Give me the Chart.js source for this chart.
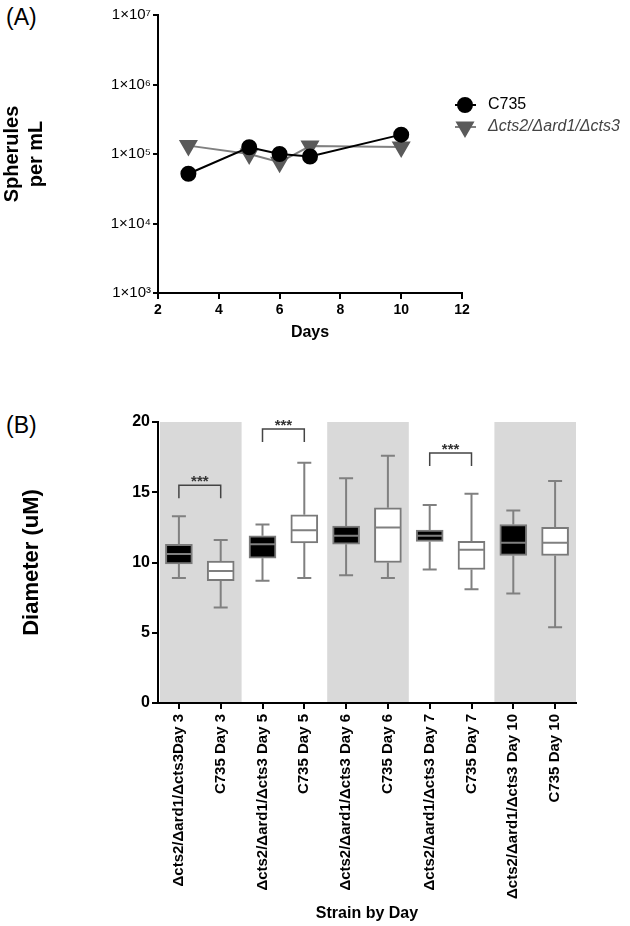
<!DOCTYPE html>
<html>
<head>
<meta charset="utf-8">
<script src="https://cdn.jsdelivr.net/npm/chart.js@4.4.1/dist/chart.umd.min.js"></script>
<style>
body { margin: 0; background: #fff; }
#wrap { position: relative; width: 630px; height: 926px; font-family: 'Liberation Sans', Arial, sans-serif; }
canvas { position: absolute; left: 0; }
.tag { position: absolute; left: 6px; font-size: 23px; line-height: 26px; }
</style>
</head>
<body>
<div id="wrap">
  <div class="tag" style="top:4px">(A)</div>
  <div class="tag" style="top:412px">(B)</div>
  <canvas id="chartA" width="630" height="345" style="top:0"></canvas>
  <canvas id="chartB" width="630" height="546" style="top:380px"></canvas>
</div>
<script>
// panel A - spherule counts
var days = [3, 5, 6, 7, 10];
var c735Counts = [5.2e4, 1.25e5, 1.0e5, 9.2e4, 1.9e5];
var mutantCounts = [1.32e5, 1.0e5, 7.6e4, 1.3e5, 1.26e5];
var logTicks = [1e3, 1e4, 1e5, 1e6, 1e7];
var dayTicks = [2, 4, 6, 8, 10, 12];

// panel B - diameters
var strainLabels = [
  'Δcts2/Δard1/Δcts3Day 3', 'C735 Day 3',
  'Δcts2/Δard1/Δcts3 Day 5', 'C735 Day 5',
  'Δcts2/Δard1/Δcts3 Day 6', 'C735 Day 6',
  'Δcts2/Δard1/Δcts3 Day 7', 'C735 Day 7',
  'Δcts2/Δard1/Δcts3 Day 10', 'C735 Day 10'
];
var boxMin    = [8.9, 6.8, 8.7, 8.9, 9.1, 8.9, 9.5, 8.1, 7.8, 5.4];
var boxQ1     = [9.9, 8.7, 10.3, 11.4, 11.3, 10.0, 11.5, 9.5, 10.5, 10.5];
var boxMedian = [10.6, 9.4, 11.3, 12.3, 11.9, 12.5, 11.9, 10.9, 11.4, 11.4];
var boxQ3     = [11.3, 10.1, 11.9, 13.4, 12.6, 13.9, 12.3, 11.5, 12.7, 12.5];
var boxMax    = [13.3, 11.6, 12.7, 17.1, 16.0, 17.6, 14.1, 14.9, 13.7, 15.8];
var bandStarts = [0, 4, 8];
var sigLeft = [0, 2, 6];
var sigLevel = [15.5, 19.5, 17.8];

Chart.defaults.font.family = "'Liberation Sans', Arial, sans-serif";
Chart.defaults.color = '#000';

var sup = { 3: '³', 4: '⁴', 5: '⁵', 6: '⁶', 7: '⁷' };

var legendA = {
  id: 'legendA',
  afterDraw: function(chart) {
    var ctx = chart.ctx;
    var rows = [[105, 0, 'normal 16px', '#000'], [127, 1, 'italic 16px', '#444']];
    rows.forEach(function(r) {
      var ds = chart.data.datasets[r[1]];
      ctx.save();
      ctx.strokeStyle = ds.borderColor;
      ctx.lineWidth = 2;
      ctx.beginPath();
      ctx.moveTo(455, r[0]);
      ctx.lineTo(476, r[0]);
      ctx.stroke();
      ctx.fillStyle = ds.pointBackgroundColor;
      ctx.strokeStyle = ds.pointBackgroundColor;
      Chart.helpers.drawPoint(ctx, {
        pointStyle: ds.pointStyle, rotation: ds.pointRotation,
        radius: ds.pointRadius, borderWidth: 1
      }, 465, r[0]);
      ctx.font = r[2] + " 'Liberation Sans', Arial, sans-serif";
      ctx.fillStyle = r[3];
      ctx.textBaseline = 'middle';
      ctx.fillText(ds.label, 488, r[0]);
      ctx.restore();
    });
  }
};

new Chart(document.getElementById('chartA'), {
  type: 'line',
  data: {
    datasets: [{
      label: 'C735',
      data: days.map(function(d, i) { return { x: d, y: c735Counts[i] }; }),
      borderColor: '#000',
      borderWidth: 2,
      pointStyle: 'circle',
      pointRadius: 7,
      pointRotation: 0,
      pointBackgroundColor: '#000',
      pointBorderColor: '#000'
    }, {
      label: 'Δcts2/Δard1/Δcts3',
      data: days.map(function(d, i) { return { x: d, y: mutantCounts[i] }; }),
      borderColor: '#808080',
      borderWidth: 2,
      pointStyle: 'triangle',
      pointRadius: 9,
      pointRotation: 180,
      pointBackgroundColor: '#5a5a5a',
      pointBorderColor: '#5a5a5a'
    }]
  },
  options: {
    responsive: false,
    animation: false,
    devicePixelRatio: 1,
    layout: { padding: { top: 15, right: 168, left: 0, bottom: 0 } },
    plugins: { legend: { display: false }, tooltip: { enabled: false } },
    scales: {
      x: {
        type: 'linear', min: 2, max: 12,
        afterBuildTicks: function(s) { s.ticks = dayTicks.map(function(v) { return { value: v }; }); },
        afterFit: function(s) { s.height = 52; },
        ticks: { font: { size: 14, weight: 'bold' }, padding: 3 },
        grid: { drawOnChartArea: false, color: '#000', lineWidth: 2, tickLength: 6 },
        border: { color: '#000', width: 2 },
        title: { display: true, text: 'Days', font: { size: 16, weight: 'bold' }, padding: { top: 0, bottom: 3 } }
      },
      y: {
        type: 'logarithmic', min: 1e3, max: 1e7,
        afterBuildTicks: function(s) { s.ticks = logTicks.map(function(v) { return { value: v }; }); },
        afterFit: function(s) { s.width = 158; },
        ticks: {
          font: { size: 15 }, padding: 2,
          callback: function(v) { return '1×10' + sup[Math.round(Math.log10(v))]; }
        },
        grid: { drawOnChartArea: false, color: '#000', lineWidth: 2, tickLength: 5 },
        border: { color: '#000', width: 2 },
        title: {
          display: true, text: ['Spherules', 'per mL'],
          font: { size: 20, weight: 'bold', lineHeight: 1.2 }, padding: { top: 0, bottom: 0 }
        }
      }
    }
  },
  plugins: [legendA]
});

var boxParts = {
  id: 'boxParts',
  beforeDatasetsDraw: function(chart) {
    var ctx = chart.ctx, x = chart.scales.x, y = chart.scales.y;
    var step = x.getPixelForValue(1) - x.getPixelForValue(0);
    ctx.save();
    ctx.fillStyle = '#d9d9d9';
    bandStarts.forEach(function(i) {
      var l = x.getPixelForValue(i) - step / 2 + 2;
      var r = x.getPixelForValue(i + 1) + step / 2;
      var t = y.getPixelForValue(20), b = y.getPixelForValue(0) - 1;
      ctx.fillRect(l, t, r - l, b - t);
    });
    ctx.restore();
  },
  afterDatasetsDraw: function(chart) {
    var ctx = chart.ctx, y = chart.scales.y;
    var bars = chart.getDatasetMeta(0).data;
    ctx.save();
    ctx.strokeStyle = '#808080';
    ctx.lineWidth = 2;
    bars.forEach(function(bar, i) {
      var cx = bar.x, hw = bar.width / 2;
      ctx.beginPath();
      ctx.moveTo(cx, y.getPixelForValue(boxMax[i]));
      ctx.lineTo(cx, y.getPixelForValue(boxQ3[i]));
      ctx.moveTo(cx, y.getPixelForValue(boxQ1[i]));
      ctx.lineTo(cx, y.getPixelForValue(boxMin[i]));
      ctx.moveTo(cx - 7, y.getPixelForValue(boxMax[i]));
      ctx.lineTo(cx + 7, y.getPixelForValue(boxMax[i]));
      ctx.moveTo(cx - 7, y.getPixelForValue(boxMin[i]));
      ctx.lineTo(cx + 7, y.getPixelForValue(boxMin[i]));
      ctx.moveTo(cx - hw + 1, y.getPixelForValue(boxMedian[i]));
      ctx.lineTo(cx + hw - 1, y.getPixelForValue(boxMedian[i]));
      ctx.stroke();
    });
    // significance brackets
    ctx.strokeStyle = '#444';
    ctx.lineWidth = 1.5;
    ctx.fillStyle = '#333';
    ctx.font = "bold 15px 'Liberation Sans', Arial, sans-serif";
    ctx.textAlign = 'center';
    ctx.textBaseline = 'bottom';
    sigLeft.forEach(function(i, k) {
      var x1 = bars[i].x, x2 = bars[i + 1].x;
      var top = y.getPixelForValue(sigLevel[k]);
      ctx.beginPath();
      ctx.moveTo(x1, top + 13);
      ctx.lineTo(x1, top);
      ctx.lineTo(x2, top);
      ctx.lineTo(x2, top + 13);
      ctx.stroke();
      ctx.fillText('***', (x1 + x2) / 2, top + 4);
    });
    ctx.restore();
  }
};

new Chart(document.getElementById('chartB'), {
  type: 'bar',
  data: {
    labels: strainLabels,
    datasets: [{
      data: boxQ1.map(function(q, i) { return [q, boxQ3[i]]; }),
      backgroundColor: strainLabels.map(function(l, i) { return i % 2 === 0 ? '#000' : '#fff'; }),
      borderColor: '#7a7a7a',
      borderWidth: 2,
      borderSkipped: false,
      barThickness: 27
    }]
  },
  options: {
    responsive: false,
    animation: false,
    devicePixelRatio: 1,
    layout: { padding: { top: 42, right: 54, left: 0, bottom: 0 } },
    plugins: { legend: { display: false }, tooltip: { enabled: false } },
    scales: {
      x: {
        type: 'category',
        afterFit: function(s) { s.height = 223; },
        ticks: { minRotation: 90, maxRotation: 90, autoSkip: false, font: { size: 15, weight: 'bold' }, padding: 5 },
        grid: { offset: false, drawOnChartArea: false, color: '#000', lineWidth: 2, tickLength: 6 },
        border: { color: '#000', width: 2 },
        title: { display: true, text: 'Strain by Day', font: { size: 16, weight: 'bold' }, padding: { top: 0, bottom: 3 } }
      },
      y: {
        min: 0, max: 20,
        afterFit: function(s) { s.width = 158; },
        ticks: { stepSize: 5, font: { size: 16, weight: 'bold' }, padding: 2 },
        grid: { drawOnChartArea: false, color: '#000', lineWidth: 2, tickLength: 6 },
        border: { color: '#000', width: 2 },
        title: {
          display: true, text: 'Diameter (uM)',
          font: { size: 22, weight: 'bold', lineHeight: 1.2 }, padding: { top: 19, bottom: 0 }
        }
      }
    }
  },
  plugins: [boxParts]
});
</script>
</body>
</html>
